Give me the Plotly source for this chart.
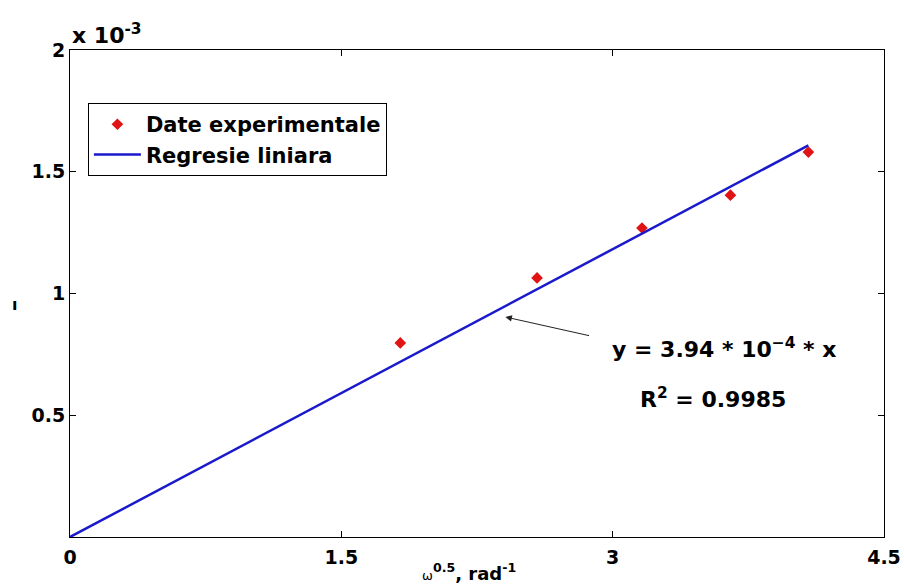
import plotly.graph_objects as go

# measured points: omega^0.5 (rad^-1) vs response
x_exp = [1.826, 2.582, 3.162, 3.651, 4.082]
y_exp = [0.797e-3, 1.064e-3, 1.269e-3, 1.404e-3, 1.581e-3]

# fitted line through the origin, y = slope * x
slope = 3.94e-4
r_squared = 0.9985
x_fit = [0.0, 4.082]
y_fit = [slope * v for v in x_fit]

x_ticks = [0, 1.5, 3, 4.5]
x_ticklabels = ["0", "1.5", "3", "4.5"]
y_ticks = [0.5e-3, 1.0e-3, 1.5e-3, 2.0e-3]
y_ticklabels = ["0.5", "1", "1.5", "2"]

FONT = "DejaVu Sans"

fig = go.Figure()
fig.add_trace(go.Scatter(
    x=x_exp, y=y_exp, mode="markers", name="Date experimentale",
    marker=dict(symbol="diamond", size=9, color="#e01414"),
))
fig.add_trace(go.Scatter(
    x=x_fit, y=y_fit, mode="lines", name="Regresie liniara",
    line=dict(color="#1a1acc", width=2.5),
))

axis_common = dict(
    showline=True, linecolor="black", linewidth=1, mirror="ticks",
    ticks="inside", ticklen=6, tickcolor="black", showgrid=False, zeroline=False,
    automargin=False,
    tickfont=dict(family=FONT, size=19, color="black", weight="bold"),
)

fig.update_xaxes(range=[0, 4.5], tickvals=x_ticks, ticktext=x_ticklabels,
                 ticklabelstandoff=3, **axis_common)
fig.update_yaxes(range=[0, 2e-3], tickvals=y_ticks, ticktext=y_ticklabels, **axis_common)

big = dict(family=FONT, size=22, color="black", weight="bold")

fig.update_layout(
    width=904, height=587,
    margin=dict(l=70, r=20, t=50, b=50),
    paper_bgcolor="white", plot_bgcolor="white",
    showlegend=True,
    legend=dict(
        x=0.022, y=0.891, xanchor="left", yanchor="top",
        bgcolor="white", bordercolor="black", borderwidth=1,
        font=dict(family=FONT, size=21, color="black", weight="bold"),
        itemwidth=47, tracegroupgap=0,
    ),
    annotations=[
        # axis multiplier
        dict(xref="paper", yref="paper", x=0, y=1, xanchor="left", yanchor="bottom",
             yshift=0, text="x 10<sup>-3</sup>", showarrow=False, font=big),
        # x-axis title
        dict(xref="paper", yref="paper", x=0.49, y=0, xanchor="center", yanchor="top",
             yshift=-21, showarrow=False,
             text="<span style='font-size:13px;font-weight:normal'>ω</span><sup>0.5</sup>, rad<sup>-1</sup>",
             font=dict(family=FONT, size=18, color="black", weight="bold")),
        # y-axis title remnant
        dict(xref="paper", yref="paper", x=-0.068, y=0.477, xanchor="center", yanchor="middle",
             text="ı", showarrow=False, font=dict(family=FONT, size=16, color="black", weight="bold")),
        # pointer to the fitted line
        dict(xref="x", yref="y", axref="x", ayref="y",
             x=2.407, y=0.9035e-3, ax=2.878, ay=0.8255e-3,
             text="", showarrow=True, arrowhead=2, arrowsize=1.3, arrowwidth=1,
             arrowcolor="#222222"),
        dict(xref="x", yref="y", x=3.614, y=0.776e-3, xanchor="center", yanchor="middle",
             text="y = 3.94 * 10<sup>−4</sup> * x", showarrow=False, font=big),
        dict(xref="x", yref="y", x=3.553, y=0.571e-3, xanchor="center", yanchor="middle",
             text=f"R<sup>2</sup> = {r_squared:.4f}", showarrow=False, font=big),
    ],
)

fig.write_html("out.html")
